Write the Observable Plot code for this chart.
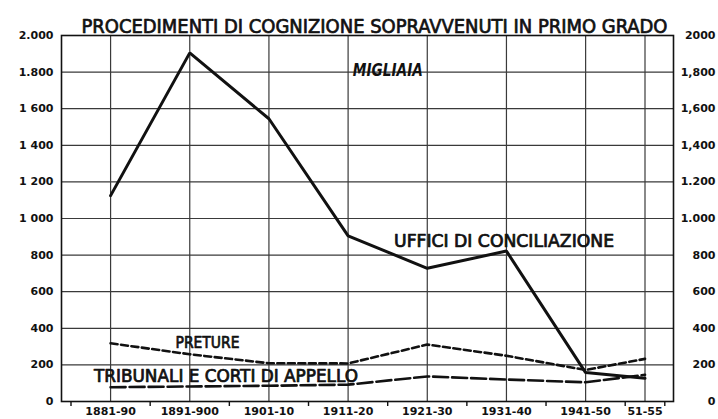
<!DOCTYPE html>
<html><head><meta charset="utf-8">
<script src="https://cdn.jsdelivr.net/npm/d3@7"></script>
<script src="https://cdn.jsdelivr.net/npm/@observablehq/plot@0.6"></script>
<style>body{margin:0;background:#fff}svg{display:block}</style>
</head><body><div id="chart"></div>
<script>
// ---- data ----
const title = "PROCEDIMENTI DI COGNIZIONE SOPRAVVENUTI IN PRIMO GRADO";
const unitLabel = "MIGLIAIA";
const periodLabels = ["1881-90","1891-900","1901-10","1911-20","1921-30","1931-40","1941-50","51-55"];
const periodStart = [1881,1891,1901,1911,1921,1931,1941,1951];
const periodEnd   = [1890,1900,1910,1920,1930,1940,1950,1955];
const seriesNames = ["UFFICI DI CONCILIAZIONE","PRETURE","TRIBUNALI E CORTI DI APPELLO"];
const uffici    = [1125,1905,1545,905,728,822,158,127];
const preture   = [318,258,209,208,311,250,172,233];
const tribunali = [78,82,86,92,137,120,105,146];
const yTicks = [0,200,400,600,800,1000,1200,1400,1600,1800,2000];
const leftTickLabels  = ["0","200","400","600","800","1 000","1 200","1 400","1 600","1.800","2.000"];
const rightTickLabels = ["0","200","400","600","800","1.000","1.200","1,400","1,600","1,800","2000"];

// ---- derived ----
const mid = periodStart.map((s,i)=>(s+periodEnd[i]+1)/2);
const bounds = [...periodStart, periodEnd[periodEnd.length-1]+1];
const rows = vals => vals.map((v,i)=>({x: mid[i], y: v}));

// annotation layout (label anchor in data coordinates)
const annotations = [
  {text: unitLabel, x: 1916.6, y: 1812, size: 18, width: 70, style: "italic", weight: "bold", halo: 0},
  {text: seriesNames[0], x: 1921.8, y: 874, size: 17, width: 220, style: "normal", weight: "normal", halo: 0.7},
  {text: seriesNames[1], x: 1894.2, y: 322, size: 16.5, width: 64, style: "normal", weight: "normal", halo: 0.7},
  {text: seriesNames[2], x: 1883.9, y: 139, size: 17, width: 264, style: "normal", weight: "normal", halo: 0.7}
];

const ink = "#111";
const labelFont = "'DejaVu Sans Condensed','Liberation Sans Narrow','DejaVu Sans',sans-serif";

const chart = Plot.plot({
  width: 718, height: 419,
  marginLeft: 61, marginRight: 45, marginTop: 35, marginBottom: 18,
  x: {domain: [1879.8, 1957.1], axis: null},
  y: {domain: [0, 2000], axis: null},
  style: {fontFamily: "'DejaVu Sans',sans-serif", background: "#fff", color: ink},
  marks: [
    Plot.gridY(yTicks, {stroke: "#3a3a3a", strokeOpacity: 1, strokeWidth: 1.2}),
    Plot.gridX(mid, {stroke: "#3a3a3a", strokeOpacity: 1, strokeWidth: 1.2}),
    Plot.frame({stroke: ink, strokeWidth: 1.6}),
    Plot.axisY(yTicks, {anchor: "left", label: null, tickSize: 0, tickPadding: 8, fontSize: 11, fontWeight: "bold",
      tickFormat: d => leftTickLabels[yTicks.indexOf(d)]}),
    Plot.axisY(yTicks, {anchor: "right", label: null, tickSize: 0, tickPadding: 42, textAnchor: "end", fontSize: 11, fontWeight: "bold",
      tickFormat: d => rightTickLabels[yTicks.indexOf(d)]}),
    Plot.axisX(mid, {anchor: "bottom", label: null, tickSize: 0, tickPadding: 6, fontSize: 11, fontWeight: "bold",
      tickFormat: d => periodLabels[mid.indexOf(d)]}),
    Plot.axisX(bounds, {anchor: "bottom", label: null, tickSize: 5, strokeWidth: 1.4, stroke: ink, tickFormat: () => ""}),
    Plot.line(rows(tribunali), {x: "x", y: "y", stroke: ink, strokeWidth: 2.6, strokeDasharray: "15,4"}),
    Plot.line(rows(preture), {x: "x", y: "y", stroke: ink, strokeWidth: 2.6, strokeDasharray: "7,3.5"}),
    Plot.line(rows(uffici), {x: "x", y: "y", stroke: ink, strokeWidth: 3, strokeLinejoin: "miter"}),
    ...annotations.map(a => Plot.text([a], {x: "x", y: "y", text: "text", textAnchor: "start",
      fontSize: a.size, fontStyle: a.style, fontWeight: a.weight, fontFamily: labelFont, fill: ink,
      stroke: ink, strokeWidth: a.halo})),
    Plot.text([title], {frameAnchor: "top", dy: -16.5, dx: 7, fontSize: 20, fontFamily: labelFont, fill: ink,
      stroke: ink, strokeWidth: 0.7})
  ]
});

// fit label widths to the reference lettering
const widths = new Map(annotations.map(a => [a.text, a.width]));
widths.set(title, 586);
d3.select(chart).selectAll("text").each(function() {
  const w = widths.get(this.textContent);
  if (w) d3.select(this).attr("textLength", w).attr("lengthAdjust", "spacingAndGlyphs");
});
document.getElementById("chart").appendChild(chart);
</script>
</body></html>
